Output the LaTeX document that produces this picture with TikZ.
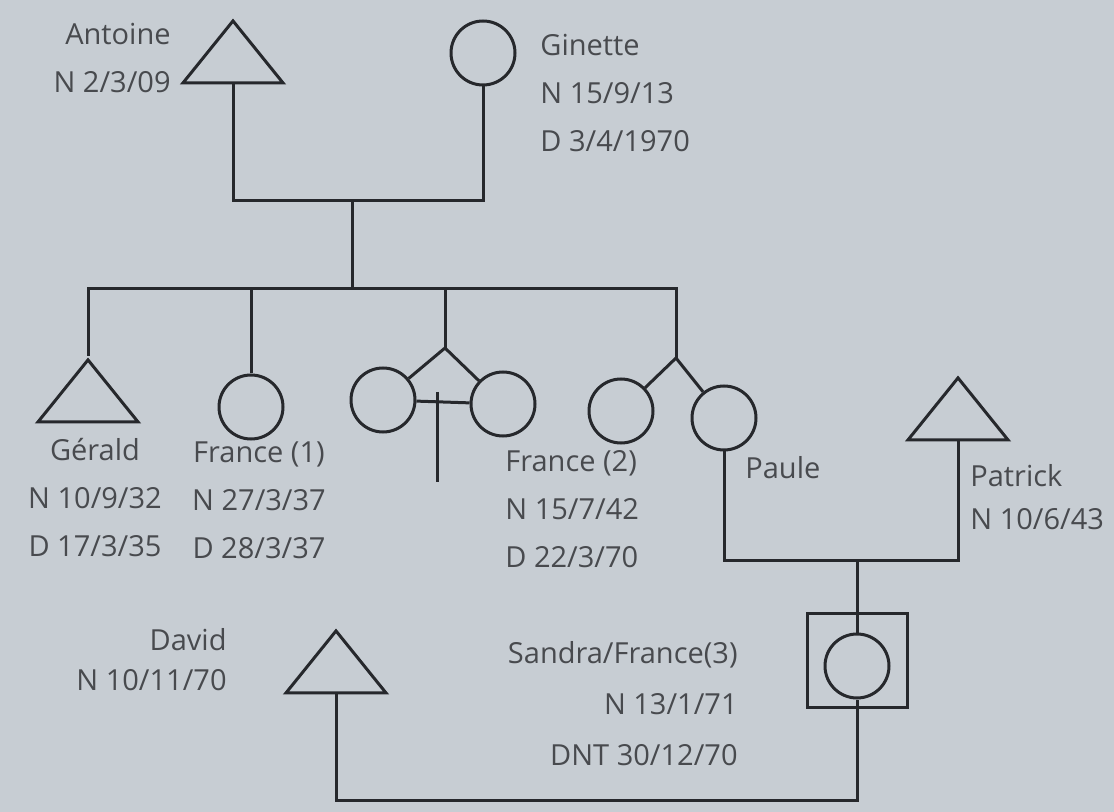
\documentclass[tikz,border=0pt]{standalone}
\usepackage{fontspec}
\setmainfont{Open Sans}
\usetikzlibrary{positioning, shapes.geometric}
\definecolor{pgBack}{RGB}{199,205,211}
\definecolor{pgLine}{RGB}{38,40,44}
\definecolor{pgText}{RGB}{72,74,78}

\begin{document}
\begin{tikzpicture}[
    x=0.5pt, y=-0.5pt,
    male/.style={isosceles triangle, isosceles triangle stretches, shape border rotate=90, draw=pgLine, line width=1.5pt, minimum width=50pt, minimum height=31pt, inner sep=0pt},
    female/.style={circle, draw=pgLine, line width=1.5pt, minimum size=32pt, inner sep=0pt},
    proband/.style={rectangle, draw=pgLine, line width=1.5pt, minimum width=50pt, minimum height=47pt, inner sep=0pt},
    link/.style={draw=pgLine, line width=1.5pt},
    info/.style={text=pgText, inner sep=0pt, font=\fontsize{14.5}{24}\selectfont}
  ]
  \fill[pgBack] (0,0) rectangle (1114,812);
  \useasboundingbox (0,0) rectangle (1114,812);
  % grands-parents
  \node[male] (antoine) at (233,59) {};
  \node[female] (ginette) at (483,53) {};
  \node[info, anchor=east, align=right] (antoineTxt) at (171,58) {Antoine\\N 2/3/09};
  \node[info, anchor=west, align=left] (ginetteTxt) at (540,93) {Ginette\\N 15/9/13\\D 3/4/1970};
  \coordinate (cpl1) at (352,201);
  \coordinate (sibR) at (676,289);
  % fratrie
  \node[male] (gerald) at (88,398) {};
  \node[female] (france1) at (251,407) {};
  \node[female] (twinA) at (383,400) {};
  \node[female] (twinB) at (503,404) {};
  \node[female] (france2) at (621,411) {};
  \node[female] (paule) at (724,418) {};
  \coordinate (fork1) at (445,348);
  \coordinate (fork2) at (676,358);
  \coordinate (crossT) at (437,392);
  \coordinate (crossB) at (437,482);
  \node[info, align=center] (geraldTxt) at (95,498) {Gérald\\N 10/9/32\\D 17/3/35};
  \node[info, align=center] (france1Txt) at (259,500) {France (1)\\N 27/3/37\\D 28/3/37};
  \node[info, anchor=west, align=left] (france2Txt) at (505,509) {France (2)\\N 15/7/42\\D 22/3/70};
  \node[info, anchor=west] (pauleTxt) at (745,468) {Paule};
  % conjoint et enfants
  \node[male] (patrick) at (958,416) {};
  \node[info, anchor=west, align=left] (patrickTxt) at (970,497) {Patrick\\[-2.5pt]N 10/6/43};
  \coordinate (cpl2) at (857,560);
  \node[proband] (sandraBox) at (857,660) {};
  \node[female] (sandra) at (857,666) {};
  \node[info, anchor=east, align=right] (sandraTxt) at (738,704) {Sandra/France(3)\\[1.5pt]N 13/1/71\\[1.5pt]DNT 30/12/70};
  \node[male] (david) at (336,669) {};
  \node[info, anchor=east, align=right] (davidTxt) at (227,660) {David\\[-4pt]N 10/11/70};
  \coordinate (cpl3) at (857,800);
  % liens
  \draw[link] (antoine.lower side) |- (cpl1) -| (ginette.south);
  \draw[link] (cpl1) -- (cpl1 |- sibR);
  \draw[link] (gerald.apex) |- (sibR) -- (fork2);
  \draw[link] (france1.north) -- (france1.north |- sibR);
  \draw[link] (fork1) -- (fork1 |- sibR);
  \draw[link] (fork1) -- (twinA);
  \draw[link] (fork1) -- (twinB);
  \draw[link] (twinA) -- (twinB);
  \draw[link] (crossT) -- (crossB);
  \draw[link] (fork2) -- (france2);
  \draw[link] (fork2) -- (paule);
  \draw[link] (paule.south) |- (cpl2) -| (patrick.lower side);
  \draw[link] (cpl2) -- (sandra.north);
  \draw[link] (david.lower side) |- (cpl3) -- (sandra.south);
\end{tikzpicture}
\end{document}
